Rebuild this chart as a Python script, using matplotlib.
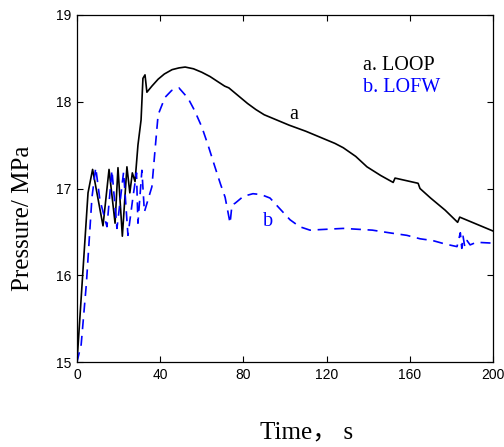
import matplotlib
matplotlib.use('Agg')
import matplotlib.pyplot as plt

# ============ 数据 ============
# a. LOOP (black solid)
t_a = [0, 5.3, 7.5, 12.5, 15.4, 18.3, 19.7, 21.8, 24, 25.4, 26.6, 27.9, 29.3,
       30.8, 31.7, 32.7, 33.6, 36, 39, 42, 45.7, 49, 52, 56, 60, 64, 67.8,
       71, 73, 74.5, 78, 82, 86, 90, 95, 102, 110, 117, 124, 128, 134, 139.4,
       146, 152, 152.9, 164, 164.9, 170, 177, 183, 184, 190, 200]
p_a = [15.0, 16.95, 17.22, 16.57, 17.22, 16.6, 17.24, 16.45, 17.25, 16.95, 17.18,
       17.08, 17.5, 17.79, 18.27, 18.31, 18.11, 18.18, 18.26, 18.32, 18.37,
       18.39, 18.40, 18.38, 18.34, 18.29, 18.23, 18.18, 18.16, 18.13, 18.06,
       17.98, 17.91, 17.85, 17.80, 17.73, 17.66, 17.59, 17.52, 17.47, 17.37,
       17.25, 17.15, 17.07, 17.12, 17.06, 17.0, 16.89, 16.75, 16.61, 16.67,
       16.61, 16.51]

# b. LOFW (blue dashed)
t_b = [0, 2, 4.5, 7.2, 9.0, 11, 14.4, 16.8, 19.2, 22.4, 24.5, 26.9, 28.6, 29.3,
       31.2, 32.4, 36, 37.5, 39, 42.3, 45.5, 49, 53.4, 56.5, 60, 63, 66.3,
       69, 71.2, 73.6, 74.5, 76, 80, 84.6, 88.5, 92.8, 97, 102.4, 107, 112,
       120, 128, 135, 142, 150, 158.6, 165, 171, 177, 182.7, 184.3, 185,
       185.6, 186.4, 187.5, 189, 192, 200]
p_b = [15.0, 15.2, 15.9, 16.9, 17.24, 16.87, 16.56, 17.21, 16.54, 17.19, 16.46,
       16.9, 17.18, 16.6, 17.21, 16.73, 17.02, 17.44, 17.85, 18.05, 18.13,
       18.16, 18.04, 17.9, 17.71, 17.5, 17.25, 17.05, 16.9, 16.6, 16.81,
       16.83, 16.91, 16.94, 16.93, 16.89, 16.78, 16.64, 16.56, 16.52, 16.53,
       16.54, 16.53, 16.52, 16.49, 16.46, 16.42, 16.4, 16.36, 16.33, 16.49,
       16.31, 16.45, 16.33, 16.4, 16.35, 16.38, 16.37]

x_ticks = [0, 40, 80, 120, 160, 200]
y_ticks = [15, 16, 17, 18, 19]

# ============ 作图 ============
fig = plt.figure(figsize=(5.04, 4.47), dpi=100)
ax = fig.add_axes([77 / 504, 1 - 362 / 447, 416 / 504, 347 / 447])

ax.plot(t_a, p_a, color='black', linewidth=1.2)
ax.plot(t_b, p_b, color='#0000FF', linewidth=1.2, linestyle=(0, (6, 4)))

ax.set_xlim(0, 200)
ax.set_ylim(15, 19)
ax.set_xticks(x_ticks)
ax.set_yticks(y_ticks)
ax.tick_params(direction='in', top=True, right=True, length=4, width=0.8,
               labelsize=10, pad=4)
for lab in ax.get_xticklabels() + ax.get_yticklabels():
    lab.set_fontfamily('Liberation Sans')
for sp in ax.spines.values():
    sp.set_linewidth(0.9)

serif = ['Liberation Serif', 'Noto Sans CJK SC']
fig.text(23 / 504, 1 - 218 / 447, 'Pressure/ MPa', rotation=90, ha='center',
         va='center', fontsize=18, family=serif)
fig.text(307 / 504, 1 - 432 / 447, 'Time\uff0c s', ha='center', va='center',
         fontsize=18, family=serif)

ax.text(0.688, 0.855, 'a. LOOP', transform=ax.transAxes, fontsize=14.5,
        family=serif, color='black', va='center')
ax.text(0.688, 0.79, 'b. LOFW', transform=ax.transAxes, fontsize=14.5,
        family=serif, color='#0000FF', va='center')
ax.text(104, 17.85, 'a', fontsize=14.5, family=serif, color='black',
        ha='center', va='center')
ax.text(92, 16.62, 'b', fontsize=14.5, family=serif, color='#0000FF',
        ha='center', va='center')

plt.savefig('out.png', dpi=100)
plt.close()
